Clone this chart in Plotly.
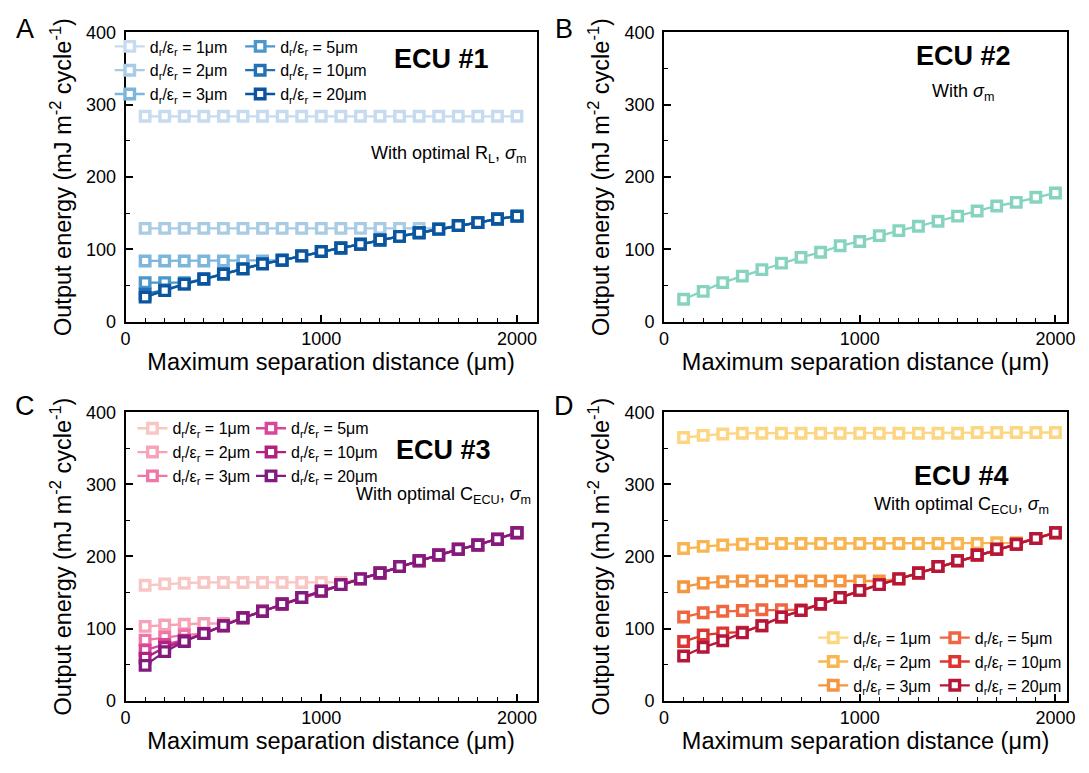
import plotly.graph_objects as go

# ---------------- data ----------------
distance = [100, 200, 300, 400, 500, 600, 700, 800, 900, 1000,
            1100, 1200, 1300, 1400, 1500, 1600, 1700, 1800, 1900, 2000]
labels = ["1μm", "2μm", "3μm", "5μm", "10μm", "20μm"]

# ECU #1
ecu1_1 = [284] * 20
ecu1_2 = [129, 129, 129, 129, 129, 129, 129, 129, 129, 129, 129, 129, 129, 129, 129, 129, 133, 137, 142, 146]
ecu1_3 = [84, 84, 84, 84, 84, 84, 84, 85, 91, 97, 102, 107, 113, 118, 123, 128, 133, 137, 142, 146]
ecu1_5 = [54, 54, 54, 59, 66, 73, 80, 85, 91, 97, 102, 107, 113, 118, 123, 128, 133, 137, 142, 146]
ecu1_10 = [38, 44, 52, 59, 66, 73, 80, 85, 91, 97, 102, 107, 113, 118, 123, 128, 133, 137, 142, 146]
ecu1_20 = [34, 43, 52, 59, 66, 73, 80, 85, 91, 97, 102, 107, 113, 118, 123, 128, 133, 137, 142, 146]

# ECU #2
ecu2 = [31, 42, 54, 63, 72, 81, 89, 96, 105, 111, 119, 126, 132, 139, 146, 153, 160, 165, 172, 178]

# ECU #3
ecu3_1 = [160, 162, 163, 164, 164, 164, 164, 164, 164, 164, 164, 169, 177, 186, 194, 202, 210, 216, 224, 233]
ecu3_2 = [103, 105, 106, 107, 107, 115, 124, 134, 143, 152, 161, 169, 177, 186, 194, 202, 210, 216, 224, 233]
ecu3_3 = [84, 88, 91, 93, 104, 115, 124, 134, 143, 152, 161, 169, 177, 186, 194, 202, 210, 216, 224, 233]
ecu3_5 = [70, 78, 84, 93, 104, 115, 124, 134, 143, 152, 161, 169, 177, 186, 194, 202, 210, 216, 224, 233]
ecu3_10 = [59, 74, 83, 93, 104, 115, 124, 134, 143, 152, 161, 169, 177, 186, 194, 202, 210, 216, 224, 233]
ecu3_20 = [49, 68, 82, 93, 104, 115, 124, 134, 143, 152, 161, 169, 177, 186, 194, 202, 210, 216, 224, 233]

# ECU #4
ecu4_1 = [365, 368, 370, 371, 371, 371, 371, 371, 371, 371, 371, 371, 371, 371, 371, 372, 372, 372, 372, 372]
ecu4_2 = [211, 214, 216, 217, 218, 218, 218, 218, 218, 218, 218, 218, 218, 218, 218, 218, 219, 219, 225, 233]
ecu4_3 = [158, 163, 165, 166, 166, 166, 166, 166, 166, 166, 166, 169, 177, 186, 194, 202, 210, 217, 225, 233]
ecu4_5 = [116, 122, 124, 125, 126, 126, 126, 134, 143, 153, 161, 169, 177, 186, 194, 202, 210, 217, 225, 233]
ecu4_10 = [82, 91, 94, 95, 104, 116, 125, 134, 143, 153, 161, 169, 177, 186, 194, 202, 210, 217, 225, 233]
ecu4_20 = [62, 74, 83, 94, 104, 116, 125, 134, 143, 153, 161, 169, 177, 186, 194, 202, 210, 217, 225, 233]

blues = ["#c6dbef", "#a7cce4", "#7db6dc", "#4a97c9", "#2271b5", "#0b559f"]
teal = "#86d3c0"
rdpu = ["#f8c6c3", "#f6a3b9", "#ef77a7", "#d9479a", "#b2217f", "#831a7e"]
ylorrd = ["#fcd681", "#f9b650", "#f5953f", "#ef6640", "#dd3630", "#b5173a"]

# ---------------- figure ----------------
W, H = 1089, 773
fig = go.Figure()

FONT = "Liberation Sans, Arial, Helvetica, sans-serif"

def px_x(p):
    return p / W

def px_y(p):
    return 1 - p / H

LEFT = [px_x(122), px_x(538)]
RIGHT = [px_x(667), px_x(1075)]
TOP = [px_y(320), px_y(23)]
BOT = [px_y(709), px_y(413)]

panels = {
    "1": (LEFT, TOP, 2100),
    "2": (RIGHT, TOP, 2060),
    "3": (LEFT, BOT, 2100),
    "4": (RIGHT, BOT, 2060),
}

def add_series(ax, ys, color, name, legend=None):
    xa = "x" if ax == "1" else "x" + ax
    ya = "y" if ax == "1" else "y" + ax
    fig.add_trace(go.Scatter(
        x=distance, y=ys, mode="lines+markers", name=name,
        xaxis=xa, yaxis=ya,
        line=dict(color=color, width=2.3),
        marker=dict(symbol="square", size=9.5, color="white",
                    line=dict(color=color, width=3.4)),
        showlegend=legend is not None,
        legend=legend if legend else "legend",
    ))

def lab(s):
    return "d<sub>r</sub>/ε<sub>r</sub> = " + s

sets = [
    ("1", [ecu1_1, ecu1_2, ecu1_3, ecu1_5, ecu1_10, ecu1_20], blues, ("legend", "legend2")),
    ("3", [ecu3_1, ecu3_2, ecu3_3, ecu3_5, ecu3_10, ecu3_20], rdpu, ("legend3", "legend4")),
    ("4", [ecu4_1, ecu4_2, ecu4_3, ecu4_5, ecu4_10, ecu4_20], ylorrd, ("legend5", "legend6")),
]
for ax, series, cols, (lg1, lg2) in sets:
    for i, (ys, c, l) in enumerate(zip(series, cols, labels)):
        add_series(ax, ys, c, lab(l), lg1 if i < 3 else lg2)

add_series("2", ecu2, teal, "ECU #2")

for ax, (xd, yd, xmax) in panels.items():
    xk = "xaxis" if ax == "1" else "xaxis" + ax
    yk = "yaxis" if ax == "1" else "yaxis" + ax
    fig.layout[xk] = dict(
        domain=xd, anchor="y" if ax == "1" else "y" + ax,
        range=[0, xmax], tickvals=[0, 1000, 2000],
        ticks="inside", ticklen=7, tickwidth=1.5, tickcolor="black",
        minor=dict(dtick=100, tick0=0, ticks="inside", ticklen=4, tickwidth=1.2, tickcolor="black"),
        showline=True, linecolor="black", linewidth=2, mirror=True,
        showgrid=False, zeroline=False,
        tickfont=dict(family=FONT, size=18, color="black"),
        title=dict(text="Maximum separation distance (μm)", standoff=0,
                   font=dict(family=FONT, size=23.5, color="black")),
    )
    fig.layout[yk] = dict(
        domain=yd, anchor="x" if ax == "1" else "x" + ax,
        range=[0, 400], tickvals=[0, 100, 200, 300, 400],
        ticks="inside", ticklen=7, tickwidth=1.5, tickcolor="black",
        minor=dict(dtick=50, tick0=0, ticks="inside", ticklen=4, tickwidth=1.2, tickcolor="black"),
        showline=True, linecolor="black", linewidth=2, mirror=True,
        showgrid=False, zeroline=False, ticklabelstandoff=4,
        tickfont=dict(family=FONT, size=18, color="black"),
        title=dict(text="Output energy (mJ m<sup>-2</sup> cycle<sup>-1</sup>)", standoff=8,
                   font=dict(family=FONT, size=23.5, color="black")),
    )

leg_common = dict(bgcolor="rgba(0,0,0,0)", borderwidth=0,
                  font=dict(family=FONT, size=16, color="black"),
                  xanchor="left", yanchor="top", orientation="v",
                  tracegroupgap=0, itemwidth=30)
fig.update_layout(
    legend=dict(x=px_x(106), y=px_y(20), **leg_common),
    legend2=dict(x=px_x(238), y=px_y(20), **leg_common),
    legend3=dict(x=px_x(129), y=px_y(412), **leg_common),
    legend4=dict(x=px_x(249), y=px_y(412), **leg_common),
    legend5=dict(x=px_x(818), y=px_y(627), **leg_common),
    legend6=dict(x=px_x(941), y=px_y(627), **leg_common),
)

ann = []
def A(x, y, text, size, bold=False, xanchor="center"):
    ann.append(dict(x=px_x(x), y=px_y(y), xref="paper", yref="paper",
                    text=("<b>%s</b>" % text) if bold else text, showarrow=False,
                    xanchor=xanchor, yanchor="middle",
                    font=dict(family=FONT, size=size, color="black")))

# panel letters
A(20, 20, "A", 27)
A(566, 20, "B", 27)
A(20, 407, "C", 27)
A(566, 407, "D", 27)

sig = "<i>σ</i><sub>m</sub>"
A(442, 50, "ECU #1", 27, bold=True)
A(529, 148, "With optimal R<sub>L</sub>, " + sig, 18, xanchor="right")
A(970, 47, "ECU #2", 27, bold=True)
A(970, 85, "With " + sig, 18)
A(444, 452, "ECU #3", 27, bold=True)
A(534, 498, "With optimal C<sub>ECU</sub>, " + sig, 18, xanchor="right")
A(968, 478, "ECU #4", 27, bold=True)
A(968, 509, "With optimal C<sub>ECU</sub>, " + sig, 18)

fig.update_layout(
    width=W, height=H,
    margin=dict(l=0, r=0, t=0, b=0),
    paper_bgcolor="white", plot_bgcolor="white",
    annotations=ann,
    font=dict(family=FONT, color="black"),
)

fig.write_html("out.html")
